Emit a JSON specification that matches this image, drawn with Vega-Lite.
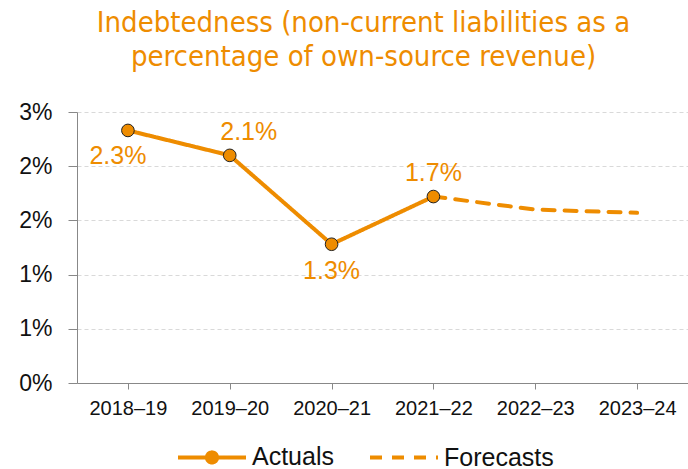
{
  "$schema": "https://vega.github.io/schema/vega-lite/v6.json",
  "width": 611,
  "height": 271,
  "autosize": {"type": "none"},
  "padding": {"left": 77, "top": 112, "right": 0, "bottom": 86},
  "background": "white",
  "title": {
    "text": ["Indebtedness (non-current liabilities as a", "percentage of own-source revenue)"],
    "fontSize": 29,
    "font": "DejaVu Sans Condensed, Roboto, sans-serif",
    "fontWeight": "normal",
    "color": "#EE8C00",
    "anchor": "middle",
    "frame": "group",
    "offset": 29,
    "dx": -19,
    "lineHeight": 34
  },
  "config": {"view": {"stroke": null}, "font": "Liberation Sans"},
  "data": {
    "values": [
      {"year": "2018–19", "value": 0.0233, "series": "Actuals", "label": "2.3%"},
      {"year": "2019–20", "value": 0.0210, "series": "Actuals", "label": "2.1%"},
      {"year": "2020–21", "value": 0.0128, "series": "Actuals", "label": "1.3%"},
      {"year": "2021–22", "value": 0.0172, "series": "Actuals", "label": "1.7%"},
      {"year": "2021–22", "value": 0.0172, "series": "Forecasts", "label": ""},
      {"year": "2022–23", "value": 0.0160, "series": "Forecasts", "label": ""},
      {"year": "2023–24", "value": 0.0157, "series": "Forecasts", "label": ""}
    ]
  },
  "encoding": {
    "x": {
      "field": "year",
      "type": "ordinal",
      "sort": null,
      "scale": {"type": "point", "padding": 0.5},
      "axis": {
        "title": null,
        "labelAngle": 0,
        "labelFontSize": 20,
        "labelColor": "#111111",
        "tickColor": "#888888",
        "domainColor": "#888888",
        "tickSize": 6,
        "labelPadding": 9,
        "grid": false
      }
    },
    "y": {
      "field": "value",
      "type": "quantitative",
      "scale": {"domain": [0, 0.025], "nice": false},
      "axis": {
        "title": null,
        "values": [0, 0.005, 0.01, 0.015, 0.02, 0.025],
        "format": ".0%",
        "labelFontSize": 23,
        "labelColor": "#111111",
        "grid": true,
        "gridDash": [4, 3],
        "gridColor": "#d9d9d9",
        "domainColor": "#888888",
        "tickColor": "#888888",
        "tickSize": 9,
        "labelPadding": 16
      }
    }
  },
  "layer": [
    {
      "mark": {"type": "line", "color": "#EE8C00", "strokeWidth": 4, "strokeCap": "round", "strokeJoin": "round"},
      "encoding": {
        "detail": {"field": "series"},
        "strokeDash": {
          "field": "series",
          "type": "nominal",
          "scale": {"domain": ["Actuals", "Forecasts"], "range": [[1, 0], [12, 10]]},
          "legend": {
            "title": null,
            "orient": "none",
            "legendX": 99,
            "legendY": 309,
            "direction": "horizontal",
            "symbolSize": 4624,
            "symbolStrokeWidth": 4,
            "symbolStrokeColor": "#EE8C00",
            "labelFontSize": 25,
            "labelColor": "#111111",
            "labelOffset": 4,
            "columnPadding": 28,
            "padding": 0,
            "encode": {
              "symbols": {
                "update": {
                  "shape": {"signal": "datum.value === 'Actuals' ? 'M-1,0L-0.15,0M0.15,0L1,0M-0.15,0A0.15,0.15,0,1,0,0.15,0A0.15,0.15,0,1,0,-0.15,0Z' : 'M-1,0L1,0'"},
                  "fill": {"signal": "datum.value === 'Actuals' ? '#EE8C00' : 'transparent'"},
                  "stroke": {"value": "#EE8C00"}
                }
              }
            }
          }
        }
      }
    },
    {
      "transform": [{"filter": "datum.series === 'Actuals'"}],
      "mark": {"type": "circle", "size": 160, "color": "#EE8C00", "stroke": "#222222", "strokeWidth": 1, "opacity": 1}
    },
    {
      "transform": [{"filter": "datum.series === 'Actuals' && datum.year === '2018–19'"}],
      "mark": {"type": "text", "fontSize": 25, "color": "#EE8C00", "dx": -10, "dy": 26, "align": "center", "baseline": "middle"},
      "encoding": {"text": {"field": "label"}}
    },
    {
      "transform": [{"filter": "datum.series === 'Actuals' && datum.year === '2019–20'"}],
      "mark": {"type": "text", "fontSize": 25, "color": "#EE8C00", "dx": 19, "dy": -23, "align": "center", "baseline": "middle"},
      "encoding": {"text": {"field": "label"}}
    },
    {
      "transform": [{"filter": "datum.series === 'Actuals' && datum.year === '2020–21'"}],
      "mark": {"type": "text", "fontSize": 25, "color": "#EE8C00", "dx": 0, "dy": 27, "align": "center", "baseline": "middle"},
      "encoding": {"text": {"field": "label"}}
    },
    {
      "transform": [{"filter": "datum.series === 'Actuals' && datum.year === '2021–22'"}],
      "mark": {"type": "text", "fontSize": 25, "color": "#EE8C00", "dx": 0, "dy": -24, "align": "center", "baseline": "middle"},
      "encoding": {"text": {"field": "label"}}
    }
  ]
}
